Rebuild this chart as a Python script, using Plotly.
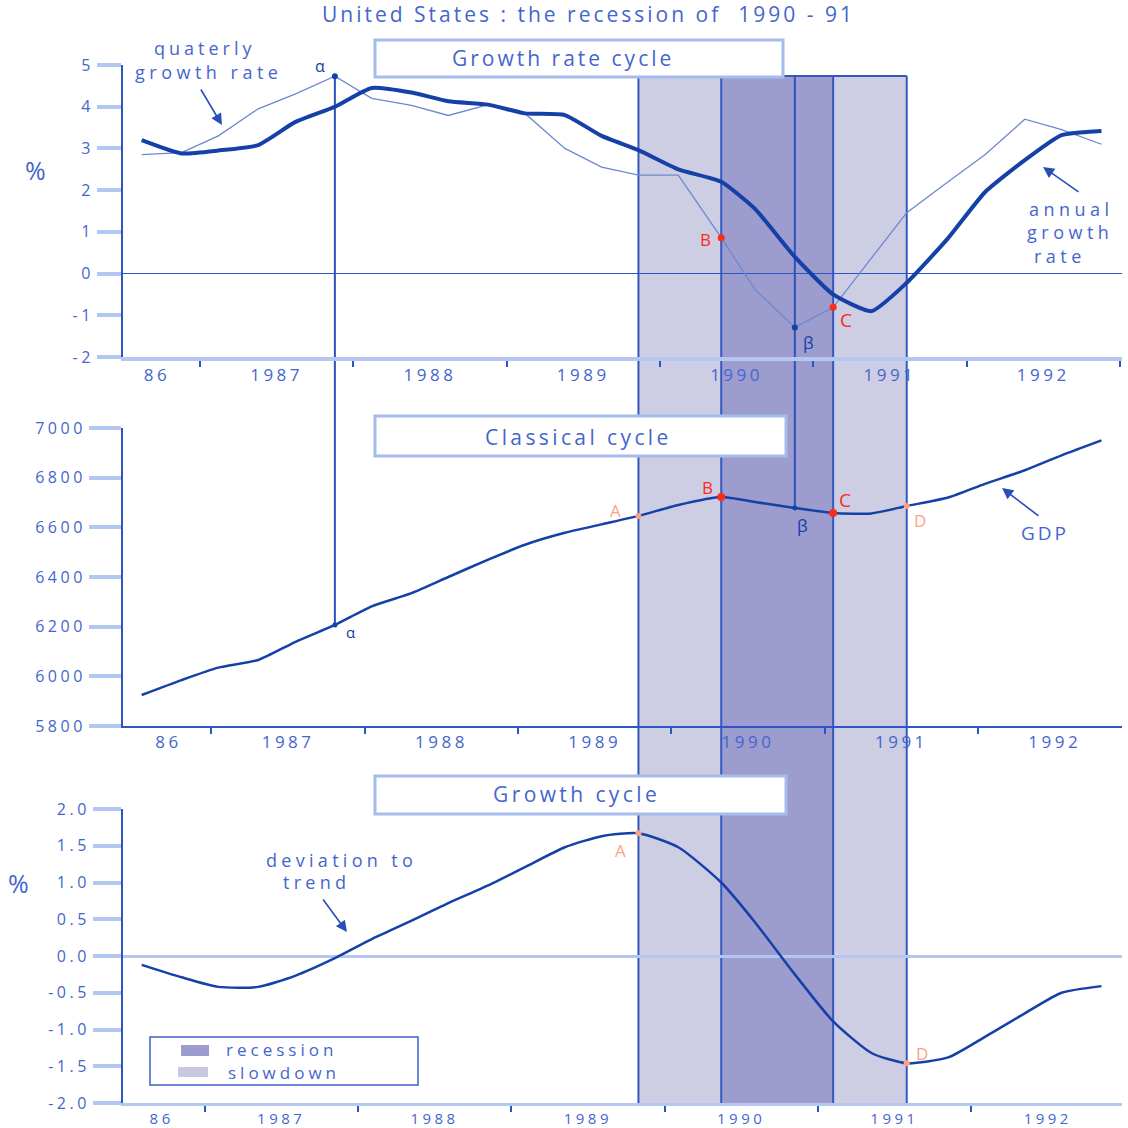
import plotly.graph_objects as go

W = H = 1128
FONT = "Open Sans"
TXT = "#4466cc"
DARK = "#1440a8"
THIN = "#6d88d0"
AXIS = "#2e56c2"
LIGHT = "#b4c7f0"
SLOW = "#cdcde3"
REC = "#9c9cce"
RED = "#ff2a1a"
SALMON = "#ffa284"

# ---------------- data ----------------
dates = [1986.62, 1986.88, 1987.12, 1987.38, 1987.62, 1987.88, 1988.12, 1988.38,
         1988.62, 1988.88, 1989.12, 1989.38, 1989.62, 1989.86, 1990.12, 1990.40,
         1990.62, 1990.88, 1991.13, 1991.38, 1991.61, 1991.88, 1992.12, 1992.38,
         1992.62, 1992.88]
growth_quarterly = [2.85, 2.90, 3.30, 3.95, 4.30, 4.73, 4.20, 4.03, 3.79, 4.05, 3.84, 3.00,
                    2.55, 2.36, 2.36, 0.86, -0.38, -1.29, -0.81, 0.38, 1.46, 2.20, 2.85,
                    3.70, 3.45, 3.10]
growth_annual = [3.20, 2.88, 2.95, 3.08, 3.63, 4.00, 4.45, 4.34, 4.13, 4.05, 3.84, 3.80,
                 3.30, 2.96, 2.50, 2.20, 1.55, 0.40, -0.50, -0.90, -0.22, 0.85, 1.95,
                 2.72, 3.32, 3.42]
gdp = [5925, 5985, 6035, 6066, 6138, 6207, 6282, 6335, 6400, 6470, 6530, 6578, 6612,
       6646, 6690, 6722, 6702, 6678, 6658, 6656, 6686, 6720, 6775, 6830, 6890, 6950]
deviation = [-0.12, -0.29, -0.42, -0.42, -0.27, -0.03, 0.23, 0.48, 0.72, 0.96, 1.21, 1.48,
             1.63, 1.67, 1.48, 1.00, 0.46, -0.25, -0.89, -1.32, -1.46, -1.38, -1.10,
             -0.78, -0.50, -0.41]

# turning points (index in the quarterly series)
idx_alpha, idx_beta = 5, 17
idx_A, idx_B, idx_C, idx_D = 13, 15, 18, 20

year_labels = ["86", "1987", "1988", "1989", "1990", "1991", "1992"]
label_pos = [1986.72, 1987.5, 1988.5, 1989.5, 1990.5, 1991.5, 1992.5]
year_bounds = [1987, 1988, 1989, 1990, 1991, 1992, 1993]
panel_shift = [0.0, 0.075, 0.03]


def sp(s, ls):
    return '<span style="letter-spacing:%spx">%s</span>' % (ls, s)


# ---------------- geometry ----------------
def pxx(px):
    return px / W


def pxy(py):
    return 1 - py / H


XRANGE = [1986.498, 1993.014]
XDOM = [pxx(123), pxx(1122)]
panels = [
    dict(dom=[pxy(357), pxy(65)], rng=[-2, 5], tv=[-2, -1, 0, 1, 2, 3, 4, 5],
         tt=["-2", "-1", "0", "1", "2", "3", "4", "5"], tl=24, xfs=17),
    dict(dom=[pxy(726), pxy(428)], rng=[5800, 7000], tv=[5800, 6000, 6200, 6400, 6600, 6800, 7000],
         tt=["5800", "6000", "6200", "6400", "6600", "6800", "7000"], tl=32, xfs=17),
    dict(dom=[pxy(1103), pxy(809)], rng=[-2, 2], tv=[-2, -1.5, -1, -0.5, 0, 0.5, 1, 1.5, 2],
         tt=["-2.0", "-1.5", "-1.0", "-0.5", "0.0", "0.5", "1.0", "1.5", "2.0"], tl=28, xfs=15),
]


def to_paper(i, v):
    p = panels[i]
    return p["dom"][0] + (v - p["rng"][0]) / (p["rng"][1] - p["rng"][0]) * (p["dom"][1] - p["dom"][0])


fig = go.Figure()

# series
fig.add_trace(go.Scatter(x=dates, y=growth_quarterly, mode="lines", xaxis="x", yaxis="y",
                         line=dict(color=THIN, width=1.3)))
fig.add_trace(go.Scatter(x=dates, y=growth_annual, mode="lines", xaxis="x", yaxis="y",
                         line=dict(color=DARK, width=4, shape="spline", smoothing=0.5)))
fig.add_trace(go.Scatter(x=dates, y=gdp, mode="lines", xaxis="x2", yaxis="y2",
                         line=dict(color=DARK, width=2.5, shape="spline", smoothing=0.6)))
fig.add_trace(go.Scatter(x=dates, y=deviation, mode="lines", xaxis="x3", yaxis="y3",
                         line=dict(color=DARK, width=2.5, shape="spline", smoothing=0.6)))


def pts(series, idxs):
    return [dates[i] for i in idxs], [series[i] for i in idxs]


# markers
for series, ax, ay, idxs, col, size in [
    (growth_quarterly, "x", "y", [idx_alpha, idx_beta], DARK, 6),
    (growth_quarterly, "x", "y", [idx_B, idx_C], RED, 7),
    (gdp, "x2", "y2", [idx_alpha, idx_beta], DARK, 5),
    (gdp, "x2", "y2", [idx_B, idx_C], RED, 8),
    (gdp, "x2", "y2", [idx_A, idx_D], SALMON, 6),
    (deviation, "x3", "y3", [idx_A, idx_D], SALMON, 6),
]:
    xs, ys = pts(series, idxs)
    fig.add_trace(go.Scatter(x=xs, y=ys, mode="markers", xaxis=ax, yaxis=ay,
                             marker=dict(color=col, size=size)))

# ---------------- shapes ----------------
shapes = []
tA, tB, tC, tD = dates[idx_A], dates[idx_B], dates[idx_C], dates[idx_D]
top_shade, bot_shade = pxy(76), pxy(1103)
for x0, x1, col in [(tA, tB, SLOW), (tB, tC, REC), (tC, tD, SLOW)]:
    shapes.append(dict(type="rect", xref="x", yref="paper", x0=x0, x1=x1, y0=bot_shade, y1=top_shade,
                       fillcolor=col, line=dict(width=0), layer="below"))
for t in [tA, tB, tC, tD]:
    shapes.append(dict(type="line", xref="x", yref="paper", x0=t, x1=t, y0=bot_shade, y1=top_shade,
                       line=dict(color="#3558c0", width=2), layer="below"))
shapes.append(dict(type="line", xref="x", yref="paper", x0=tA, x1=tD, y0=top_shade, y1=top_shade,
                   line=dict(color="#3558c0", width=2), layer="below"))
# alpha and beta connectors
ta = dates[idx_alpha]
shapes.append(dict(type="line", xref="x", yref="paper", x0=ta, x1=ta,
                   y0=to_paper(1, gdp[idx_alpha]), y1=to_paper(0, growth_quarterly[idx_alpha]),
                   line=dict(color="#2e50b8", width=2), layer="below"))
tb = dates[idx_beta]
shapes.append(dict(type="line", xref="x", yref="paper", x0=tb, x1=tb,
                   y0=to_paper(1, gdp[idx_beta]), y1=top_shade,
                   line=dict(color="#2e50b8", width=2), layer="below"))

# title boxes
for (x0, y0, x1, y1) in [(375, 40, 783, 77), (375, 416, 786, 456), (375, 776, 786, 814)]:
    shapes.append(dict(type="rect", xref="paper", yref="paper", x0=pxx(x0), x1=pxx(x1),
                       y0=pxy(y1), y1=pxy(y0), fillcolor="white",
                       line=dict(color="#a6bcec", width=3), layer="above"))
# legend box
shapes.append(dict(type="rect", xref="paper", yref="paper", x0=pxx(150), x1=pxx(418),
                   y0=pxy(1085), y1=pxy(1037), fillcolor="white",
                   line=dict(color="#3a5fc8", width=1.5), layer="above"))
shapes.append(dict(type="rect", xref="paper", yref="paper", x0=pxx(181), x1=pxx(209),
                   y0=pxy(1056), y1=pxy(1045), fillcolor=REC, line=dict(width=0), layer="above"))
shapes.append(dict(type="rect", xref="paper", yref="paper", x0=pxx(178), x1=pxx(208),
                   y0=pxy(1077), y1=pxy(1067), fillcolor="#c8c8e0", line=dict(width=0), layer="above"))

# ---------------- annotations ----------------
ann = []


def text(px, py, s, size=18, color=TXT, xanchor="center", ls=4):
    ann.append(dict(x=pxx(px), y=pxy(py), xref="paper", yref="paper", text=sp(s, ls), showarrow=False,
                    xanchor=xanchor, yanchor="middle", font=dict(family=FONT, size=size, color=color)))


def arrow(tx, ty, sx, sy):
    ann.append(dict(x=pxx(tx), y=pxy(ty), xref="paper", yref="paper", text="", showarrow=True,
                    ax=sx - tx, ay=sy - ty, arrowhead=2, arrowsize=1.4, arrowwidth=1.6,
                    arrowcolor="#2a4db8"))


text(588, 14, "United States : the recession of  1990 - 91", size=21, ls=3)
text(563, 58, "Growth rate cycle", size=21, ls=3)
text(578, 437, "Classical cycle", size=21, ls=3.4)
text(576, 794, "Growth cycle", size=21, ls=3.4)
text(205, 48, "quaterly", size=18, ls=4)
text(208, 72, "growth rate", size=18, ls=4.5)
arrow(222, 125, 200, 88)
text(35, 170, "%", size=25, ls=0)
text(18, 883, "%", size=25, ls=0)
text(1071, 209, "annual", size=18, ls=4.5)
text(1070, 232, "growth", size=18, ls=4.5)
text(1060, 256, "rate", size=18, ls=4.5)
arrow(1043, 167, 1080, 193)
text(1045, 533, "GDP", size=19, ls=3)
arrow(1002, 488, 1040, 517)
text(341, 860, "deviation to", size=18, ls=4.3)
text(316, 882, "trend", size=18, ls=4.3)
arrow(347, 932, 322, 898)
text(320, 66, "α", size=16, color=DARK, ls=0)
text(350, 632, "α", size=15, color=DARK, ls=0)
text(808, 342, "β", size=17, color=DARK, ls=0)
text(802, 525, "β", size=17, color=DARK, ls=0)
text(705, 240, "B", size=17, color=RED, ls=0)
text(846, 320, "C", size=19, color=RED, ls=0)
text(615, 510, "A", size=17, color=SALMON, ls=0)
text(707, 487, "B", size=17, color=RED, ls=0)
text(845, 500, "C", size=19, color=RED, ls=0)
text(920, 520, "D", size=17, color=SALMON, ls=0)
text(620, 850, "A", size=17, color=SALMON, ls=0)
text(922, 1053, "D", size=17, color=SALMON, ls=0)
text(224, 1049, "recession", size=17, xanchor="left", ls=4)
text(226, 1072, "slowdown", size=17, xanchor="left", ls=4)

# ---------------- layout ----------------
layout = dict(width=W, height=H, margin=dict(l=0, r=0, t=0, b=0, pad=0, autoexpand=False),
              showlegend=False, paper_bgcolor="white", plot_bgcolor="rgba(0,0,0,0)",
              shapes=shapes, annotations=ann)

xline = [dict(color=LIGHT, width=4), dict(color=AXIS, width=1.5), dict(color=LIGHT, width=3)]
for i, p in enumerate(panels):
    sfx = "" if i == 0 else str(i + 1)
    sh = panel_shift[i]
    layout["xaxis" + sfx] = dict(
        domain=XDOM, range=XRANGE, anchor="y" + sfx, showgrid=False, zeroline=False, automargin=False,
        showline=True, linecolor=xline[i]["color"], linewidth=xline[i]["width"],
        tickmode="array", tickvals=[v + sh for v in label_pos], ticktext=[sp(t, 3.5) for t in year_labels],
        ticks="outside", ticklen=0, tickcolor=AXIS,
        minor=dict(tickmode="array", tickvals=[v + sh for v in year_bounds], ticks="outside",
                   ticklen=6, tickwidth=1.5, tickcolor=AXIS, showgrid=False),
        tickfont=dict(family=FONT, size=p["xfs"], color=TXT), fixedrange=True)
    layout["yaxis" + sfx] = dict(
        domain=p["dom"], range=p["rng"], anchor="x" + sfx, showgrid=False, automargin=False,
        zeroline=(i != 1), zerolinecolor=(AXIS if i == 0 else LIGHT), zerolinewidth=(1.3 if i == 0 else 3),
        showline=True, linecolor=AXIS, linewidth=2,
        tickmode="array", tickvals=p["tv"], ticktext=[sp(t, 3.5) for t in p["tt"]],
        ticks="outside", ticklen=p["tl"], tickwidth=4, tickcolor=LIGHT,
        tickfont=dict(family=FONT, size=16, color=TXT), fixedrange=True)

fig.update_layout(**layout)
fig.write_html("out.html", config={"displayModeBar": False},
               post_script="document.body.style.margin='0px';document.body.style.overflow='hidden';")
